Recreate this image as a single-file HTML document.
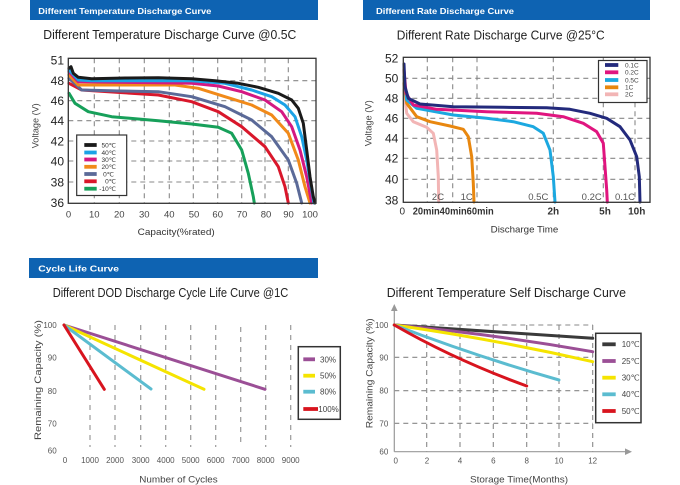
<!DOCTYPE html>
<html><head><meta charset="utf-8"><style>
html,body{margin:0;padding:0;background:#fff;}
svg{display:block;font-family:"Liberation Sans",sans-serif;}
</style></head><body>
<svg width="680" height="485" viewBox="0 0 680 485" xmlns="http://www.w3.org/2000/svg">
<rect width="680" height="485" fill="#fff"/>
<!-- Header bars -->
<rect x="30" y="0" width="288" height="20" fill="#0e63b2"/>
<text x="38.3" y="14" font-size="8.5" font-weight="bold" fill="#fff" textLength="173" lengthAdjust="spacingAndGlyphs">Different Temperature Discharge Curve</text>
<rect x="363" y="0" width="287" height="20" fill="#0e63b2"/>
<text x="376" y="14" font-size="8.5" font-weight="bold" fill="#fff" textLength="138" lengthAdjust="spacingAndGlyphs">Different Rate Discharge Curve</text>
<rect x="29" y="258" width="289" height="20" fill="#0e63b2"/>
<text x="38.3" y="271.5" font-size="8.5" font-weight="bold" fill="#fff" textLength="80.7" lengthAdjust="spacingAndGlyphs">Cycle Life Curve</text>

<!-- Titles -->
<text x="43.3" y="38.8" font-size="12.5" fill="#222" textLength="253" lengthAdjust="spacingAndGlyphs">Different Temperature Discharge Curve @0.5C</text>
<text x="396.7" y="39.5" font-size="12.5" fill="#222" textLength="208" lengthAdjust="spacingAndGlyphs">Different Rate Discharge Curve @25°C</text>
<text x="52.7" y="297" font-size="12.5" fill="#222" textLength="235.6" lengthAdjust="spacingAndGlyphs">Different DOD Discharge Cycle Life Curve @1C</text>
<text x="386.7" y="297" font-size="12.5" fill="#222" textLength="239.3" lengthAdjust="spacingAndGlyphs">Different Temperature Self Discharge Curve</text>

<!-- ============ CHART 1 ============ -->
<g stroke="#888" stroke-width="1.1" stroke-dasharray="5,4" fill="none">
<line x1="68.3" y1="80.7" x2="316" y2="80.7"/>
<line x1="68.3" y1="100.7" x2="316" y2="100.7"/>
<line x1="68.3" y1="120.7" x2="316" y2="120.7"/>
<line x1="68.3" y1="141" x2="316" y2="141"/>
<line x1="68.3" y1="161" x2="316" y2="161"/>
<line x1="68.3" y1="182" x2="316" y2="182"/>
<line x1="94.3" y1="58.3" x2="94.3" y2="203.3"/>
<line x1="119.3" y1="58.3" x2="119.3" y2="203.3"/>
<line x1="144.3" y1="58.3" x2="144.3" y2="203.3"/>
<line x1="169.3" y1="58.3" x2="169.3" y2="203.3"/>
<line x1="193.3" y1="58.3" x2="193.3" y2="203.3"/>
<line x1="217.7" y1="58.3" x2="217.7" y2="203.3"/>
<line x1="241.7" y1="58.3" x2="241.7" y2="203.3"/>
<line x1="265" y1="58.3" x2="265" y2="203.3"/>
<line x1="288.3" y1="58.3" x2="288.3" y2="203.3"/>
</g>
<g fill="none" stroke-width="3" stroke-linejoin="round" stroke-linecap="round">
<polyline stroke="#17a05a" points="69,93.3 75,103.3 88.3,111.7 111.7,116.7 158.3,120.7 191.7,124 218.3,127.3 231.7,133.3 241.7,150 248.3,173.3 253.3,196.7 254.3,203"/>
<polyline stroke="#d9172b" points="69,83.3 81.7,90 120,92.5 158.3,95 191.7,101.7 218.3,111.7 241.7,126.7 265,146.7 278.3,166.7 285,186.7 288.3,203"/>
<polyline stroke="#5b6a98" points="69,78.3 81.7,90 120,91 158.3,91.7 191.7,96.7 225,106.7 251.7,120 271.7,136.7 288.3,160 296.7,183.3 301.7,203"/>
<polyline stroke="#f18a1a" points="69,75 78.3,85 175,85 198.3,88.3 225,96.7 251.7,105 271.7,115 288.3,133.3 298.3,160 305,186.7 310,203"/>
<polyline stroke="#d41882" points="69,71.7 78.3,81.7 191.7,83.3 218.3,86 241.7,91.7 265,100 281.7,111.7 291.7,126.7 300,150 306.7,176.7 311.7,203"/>
<polyline stroke="#1ba2e6" points="69,70 78.3,80 91.7,80.7 191.7,80.7 225,83.3 251.7,90 271.7,96.7 285,105 295,116.7 301.7,136.7 306.7,160 311.7,190 314,203"/>
<polyline stroke="#1a1a1a" points="69,68.3 71,66.7 73.3,73.3 78.3,77.3 91.7,78.7 125,78 158.3,77.7 191.7,78.7 215,80.7 238.3,83.3 258.3,87.3 278.3,93.3 291.7,100 298.3,108.3 303.3,123.3 306.7,150 310,176.7 313.3,196.7 315,203"/>
</g>
<rect x="68.3" y="58.3" width="247.7" height="145" fill="none" stroke="#333" stroke-width="1.3"/>
<!-- legend 1 -->
<rect x="76.7" y="135" width="50" height="60.5" fill="#fff" stroke="#333" stroke-width="1.2"/>
<g stroke-width="3.8">
<line x1="84.3" y1="145" x2="96.7" y2="145" stroke="#1a1a1a"/>
<line x1="84.3" y1="152.5" x2="96.7" y2="152.5" stroke="#1ba2e6"/>
<line x1="84.3" y1="159.5" x2="96.7" y2="159.5" stroke="#d41882"/>
<line x1="84.3" y1="166.8" x2="96.7" y2="166.8" stroke="#f18a1a"/>
<line x1="84.3" y1="174" x2="96.7" y2="174" stroke="#5b6a98"/>
<line x1="84.3" y1="181.3" x2="96.7" y2="181.3" stroke="#d9172b"/>
<line x1="84.3" y1="188.7" x2="96.7" y2="188.7" stroke="#17a05a"/>
</g>
<g font-size="6.5" fill="#333" text-anchor="end">
<text x="116" y="147.3">50℃</text>
<text x="116" y="154.8">40℃</text>
<text x="116" y="161.8">30℃</text>
<text x="116" y="169.1">20℃</text>
<text x="114" y="176.3">0℃</text>
<text x="116" y="183.6">0℃</text>
<text x="116" y="191">-10℃</text>
</g>
<g font-size="12" fill="#222" text-anchor="end">
<text x="64" y="64.3">51</text>
<text x="64" y="85">48</text>
<text x="64" y="105">46</text>
<text x="64" y="125">44</text>
<text x="64" y="145.3">42</text>
<text x="64" y="165.3">40</text>
<text x="64" y="186.3">38</text>
<text x="64" y="207">36</text>
</g>
<g font-size="9.5" fill="#444" text-anchor="middle">
<text x="68.5" y="217.5">0</text>
<text x="94.3" y="217.5">10</text>
<text x="119.3" y="217.5">20</text>
<text x="144.3" y="217.5">30</text>
<text x="169.3" y="217.5">40</text>
<text x="194" y="217.5">50</text>
<text x="217.7" y="217.5">60</text>
<text x="242" y="217.5">70</text>
<text x="266" y="217.5">80</text>
<text x="288.5" y="217.5">90</text>
<text x="310" y="217.5">100</text>
</g>
<text x="137.7" y="235" font-size="9.5" fill="#333" textLength="77" lengthAdjust="spacingAndGlyphs">Capacity(%rated)</text>
<text transform="translate(38.3,125.8) rotate(-90)" text-anchor="middle" font-size="9" fill="#444" textLength="45" lengthAdjust="spacingAndGlyphs">Voltage (V)</text>

<!-- ============ CHART 2 ============ -->
<g stroke="#888" stroke-width="1.1" stroke-dasharray="5,4" fill="none">
<line x1="403.3" y1="78.3" x2="650" y2="78.3"/>
<line x1="403.3" y1="98.3" x2="650" y2="98.3"/>
<line x1="403.3" y1="118.3" x2="650" y2="118.3"/>
<line x1="403.3" y1="138.3" x2="650" y2="138.3"/>
<line x1="403.3" y1="158.3" x2="650" y2="158.3"/>
<line x1="403.3" y1="179.3" x2="650" y2="179.3"/>
<line x1="427.3" y1="57.3" x2="427.3" y2="202"/>
<line x1="452.7" y1="57.3" x2="452.7" y2="202"/>
<line x1="477" y1="57.3" x2="477" y2="202"/>
<line x1="553.3" y1="57.3" x2="553.3" y2="202"/>
<line x1="603.3" y1="57.3" x2="603.3" y2="202"/>
<line x1="635" y1="57.3" x2="635" y2="202"/>
</g>
<g fill="none" stroke-width="3" stroke-linejoin="round" stroke-linecap="round">
<polyline stroke="#f2b5b5" points="404,90 406.7,113.3 413.3,121.7 426.7,127.3 433.3,133.3 436.7,150 438.3,176.7 438.7,202"/>
<polyline stroke="#e8870f" points="404,83.3 406.7,103.3 416.7,116.7 430,121.7 450,126 463.3,129.3 468.3,136.7 471.7,156.7 473.3,183.3 474,202"/>
<polyline stroke="#1ca8e0" points="404,76.7 406.7,100 416.7,108.3 453.3,115 486.7,118.3 513.3,121.7 533.3,126.7 543.3,133.3 550,150 553.3,176.7 555,202"/>
<polyline stroke="#e0157f" points="404,70 406,93.3 413.3,105 436.7,109.3 486.7,111.7 536.7,113.3 563.3,116.7 583.3,123.3 596.7,131.7 603.3,143.3 605,166.7 606.7,190 607.3,202"/>
<polyline stroke="#232a7c" points="404,64 405,86.7 408.3,98.3 420,104 453.3,106.7 503.3,107.3 546.7,107.7 570,109.3 590,113.3 606.7,118.3 620,126.7 630,140 636.7,156.7 639.3,176.7 640,202"/>
</g>
<rect x="403.3" y="57.3" width="246.7" height="145" fill="none" stroke="#333" stroke-width="1.3"/>
<rect x="598.5" y="60.5" width="48.5" height="42" fill="#fff" stroke="#333" stroke-width="1.2"/>
<g stroke-width="3.8">
<line x1="605" y1="65" x2="618.3" y2="65" stroke="#232a7c"/>
<line x1="605" y1="72.3" x2="618.3" y2="72.3" stroke="#e0157f"/>
<line x1="605" y1="80" x2="618.3" y2="80" stroke="#1ca8e0"/>
<line x1="605" y1="87.3" x2="618.3" y2="87.3" stroke="#e8870f"/>
<line x1="605" y1="94.3" x2="618.3" y2="94.3" stroke="#f2b5b5"/>
</g>
<g font-size="6.5" fill="#444">
<text x="625" y="67.3">0.1C</text>
<text x="625" y="74.6">0.2C</text>
<text x="625" y="82.3">0.5C</text>
<text x="625" y="89.6">1C</text>
<text x="625" y="96.6">2C</text>
</g>
<g font-size="12" fill="#222" text-anchor="end">
<text x="398.3" y="62.6">52</text>
<text x="398.3" y="82.6">50</text>
<text x="398.3" y="102.6">48</text>
<text x="398.3" y="122.6">46</text>
<text x="398.3" y="142.6">44</text>
<text x="398.3" y="162.6">42</text>
<text x="398.3" y="183.6">40</text>
<text x="398.3" y="204.3">38</text>
</g>
<g font-size="9.5" fill="#555" text-anchor="middle">
<text x="438" y="200">2C</text>
<text x="466.7" y="200">1C</text>
<text x="538.3" y="200">0.5C</text>
<text x="591.7" y="200">0.2C</text>
<text x="625" y="200">0.1C</text>
</g>
<g font-size="10" fill="#333" font-weight="bold">
<text x="402.3" y="214.3" text-anchor="middle" font-weight="normal">0</text>
<text x="412.7" y="214.3" textLength="81" lengthAdjust="spacingAndGlyphs">20min40min60min</text>
<text x="553.3" y="214.3" text-anchor="middle">2h</text>
<text x="605" y="214.3" text-anchor="middle">5h</text>
<text x="636.7" y="214.3" text-anchor="middle">10h</text>
</g>
<text x="490.7" y="232.7" font-size="9.5" fill="#333" textLength="67.6" lengthAdjust="spacingAndGlyphs">Discharge Time</text>
<text transform="translate(371.5,123.3) rotate(-90)" text-anchor="middle" font-size="9" fill="#444" textLength="46" lengthAdjust="spacingAndGlyphs">Voltage (V)</text>

<!-- ============ CHART 3 ============ -->
<g stroke="#999" stroke-width="1.2" stroke-dasharray="5,5" fill="none">
<line x1="90" y1="325" x2="90" y2="447"/>
<line x1="115" y1="325" x2="115" y2="447"/>
<line x1="140.7" y1="325" x2="140.7" y2="447"/>
<line x1="165.7" y1="325" x2="165.7" y2="447"/>
<line x1="190.7" y1="325" x2="190.7" y2="447"/>
<line x1="215.7" y1="325" x2="215.7" y2="447"/>
<line x1="240.7" y1="327" x2="240.7" y2="447"/>
<line x1="265.7" y1="325" x2="265.7" y2="447"/>
<line x1="290.7" y1="325" x2="290.7" y2="447"/>
</g>
<g stroke-width="3" stroke-linecap="round">
<line x1="64" y1="325" x2="265" y2="389.3" stroke="#9b4f96"/>
<line x1="64" y1="325" x2="204" y2="389.3" stroke="#f5e400"/>
<line x1="64" y1="325" x2="151" y2="389" stroke="#5bbcd0"/>
<line x1="64" y1="325" x2="104.3" y2="389.3" stroke="#d8141e"/>
</g>
<rect x="298.3" y="346.7" width="42" height="72.6" fill="#fff" stroke="#333" stroke-width="1.5"/>
<g stroke-width="3.8">
<line x1="303.3" y1="359.3" x2="315" y2="359.3" stroke="#9b4f96"/>
<line x1="303.3" y1="375.7" x2="315" y2="375.7" stroke="#f5e400"/>
<line x1="303.3" y1="391.7" x2="315" y2="391.7" stroke="#5bbcd0"/>
<line x1="303.3" y1="409" x2="318" y2="409" stroke="#d8141e"/>
</g>
<g font-size="8" fill="#444">
<text x="320" y="362.3">30%</text>
<text x="320" y="378.7">50%</text>
<text x="320" y="394.7">80%</text>
<text x="318.3" y="412">100%</text>
</g>
<g font-size="8" fill="#555" text-anchor="end">
<text x="56.7" y="328">100</text>
<text x="56.7" y="360.7">90</text>
<text x="56.7" y="394">80</text>
<text x="56.7" y="426.3">70</text>
<text x="56.7" y="453.7">60</text>
</g>
<g font-size="8" fill="#555" text-anchor="middle">
<text x="65" y="463">0</text>
<text x="90" y="463">1000</text>
<text x="115" y="463">2000</text>
<text x="140.7" y="463">3000</text>
<text x="165.7" y="463">4000</text>
<text x="190.7" y="463">5000</text>
<text x="215.7" y="463">6000</text>
<text x="240.7" y="463">7000</text>
<text x="265.7" y="463">8000</text>
<text x="290.7" y="463">9000</text>
</g>
<text x="139.3" y="482.7" font-size="9.5" fill="#444" textLength="78.4" lengthAdjust="spacingAndGlyphs">Number of Cycles</text>
<text transform="translate(41,380) rotate(-90)" text-anchor="middle" font-size="9.5" fill="#444" textLength="120" lengthAdjust="spacingAndGlyphs">Remaining Capacity (%)</text>

<!-- ============ CHART 4 ============ -->
<g stroke="#888" stroke-width="1.1" stroke-dasharray="5,4" fill="none">
<line x1="394.3" y1="325" x2="593" y2="325"/>
<line x1="394.3" y1="357.3" x2="593" y2="357.3"/>
<line x1="394.3" y1="390.7" x2="593" y2="390.7"/>
<line x1="394.3" y1="423.3" x2="593" y2="423.3"/>
<line x1="426.7" y1="325" x2="426.7" y2="451.7"/>
<line x1="460" y1="325" x2="460" y2="451.7"/>
<line x1="493.3" y1="325" x2="493.3" y2="451.7"/>
<line x1="526.7" y1="325" x2="526.7" y2="451.7"/>
<line x1="559" y1="325" x2="559" y2="451.7"/>
<line x1="592.7" y1="325" x2="592.7" y2="451.7"/>
</g>
<g stroke="#999" stroke-width="1.2">
<line x1="394.3" y1="309" x2="394.3" y2="451.7"/>
<line x1="394.3" y1="451.7" x2="627" y2="451.7"/>
</g>
<polygon points="394.3,304 391,311 397.6,311" fill="#999"/>
<polygon points="632,451.7 625,448.4 625,455" fill="#999"/>
<g fill="none" stroke-width="3" stroke-linecap="round">
<line x1="394.3" y1="325" x2="592.7" y2="338.3" stroke="#3a3a3a"/>
<path d="M394.3,325 Q493,334 592.7,351.7" stroke="#9b4f96"/>
<path d="M394.3,325 Q493,339 592.7,361.7" stroke="#f5e400"/>
<path d="M394.3,325 Q475,356 559,380" stroke="#5bbcd0"/>
<path d="M394.3,325 Q455,360 526.7,386" stroke="#d8141e"/>
</g>
<rect x="595.7" y="333.3" width="45.3" height="89.4" fill="#fff" stroke="#333" stroke-width="1.5"/>
<g stroke-width="3.8">
<line x1="602.3" y1="344.3" x2="615.7" y2="344.3" stroke="#3a3a3a"/>
<line x1="602.3" y1="361" x2="615.7" y2="361" stroke="#9b4f96"/>
<line x1="602.3" y1="377.7" x2="615.7" y2="377.7" stroke="#f5e400"/>
<line x1="602.3" y1="394.3" x2="615.7" y2="394.3" stroke="#5bbcd0"/>
<line x1="602.3" y1="411" x2="615.7" y2="411" stroke="#d8141e"/>
</g>
<g font-size="8" fill="#444">
<text x="621.7" y="347.2">10℃</text>
<text x="621.7" y="363.9">25℃</text>
<text x="621.7" y="380.6">30℃</text>
<text x="621.7" y="397.2">40℃</text>
<text x="621.7" y="413.9">50℃</text>
</g>
<g font-size="8" fill="#555" text-anchor="end">
<text x="388.3" y="328">100</text>
<text x="388.3" y="360.3">90</text>
<text x="388.3" y="393.7">80</text>
<text x="388.3" y="426.3">70</text>
<text x="388.3" y="454.7">60</text>
</g>
<g font-size="8" fill="#555" text-anchor="middle">
<text x="395.7" y="463.5">0</text>
<text x="427" y="463.5">2</text>
<text x="460" y="463.5">4</text>
<text x="493.3" y="463.5">6</text>
<text x="526.7" y="463.5">8</text>
<text x="559" y="463.5">10</text>
<text x="592.7" y="463.5">12</text>
</g>
<text x="470" y="482.7" font-size="9.5" fill="#444" textLength="98" lengthAdjust="spacingAndGlyphs">Storage Time(Months)</text>
<text transform="translate(372.5,373.3) rotate(-90)" text-anchor="middle" font-size="9.5" fill="#444" textLength="110" lengthAdjust="spacingAndGlyphs">Remaining Capacity (%)</text>
</svg>
</body></html>
